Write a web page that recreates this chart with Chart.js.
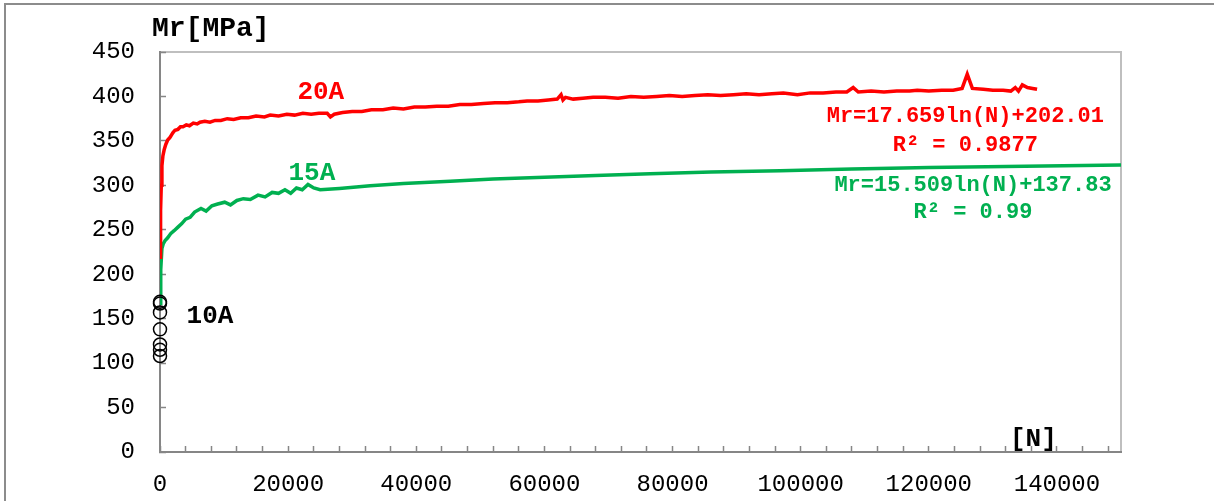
<!DOCTYPE html>
<html>
<head>
<meta charset="utf-8">
<script src="https://cdn.jsdelivr.net/npm/chart.js@4"></script>
<style>
  html, body { margin: 0; padding: 0; background: #fff; }
  #box { position: relative; width: 1214px; height: 501px; }
</style>
</head>
<body>
<div id="box"><canvas id="myChart" width="1214" height="501"></canvas></div>
<script>
// 20A series (N, Mr)
var redN = [0, 60, 120, 200, 300, 450, 650, 900, 1200, 1560, 2000, 2340, 2800, 3200, 3590, 4100, 4600, 5200, 5800, 6240,
    7000, 7800, 8600, 9500, 10500, 11500, 12600, 13800, 15000, 16300, 17200, 18500, 19800, 21000, 22300, 23600, 24800,
    26100, 26600, 27200, 28500, 30000, 31500, 33000, 34800, 36400, 38000, 39700, 41400, 43200, 45000, 46800, 48600,
    50500, 52300, 54200, 56000, 57300, 59000, 60600, 62000, 62600, 62900, 63300, 64500, 66000, 67600, 69500, 71500,
    73500, 75500, 77500, 79500, 81500, 83500, 85500, 87500, 89500, 91500, 93500, 95500, 97300, 99500, 101500, 103500,
    105500, 107200, 108200, 109000, 111000, 113000, 115000, 117000, 118200, 120000, 122000, 123800, 125200, 126000,
    126800, 128500, 130000, 131600, 132800, 133500, 134000, 134600, 135400, 136200, 136900];
var redMr = [219, 245, 272, 300, 322, 333, 340, 346, 351, 354, 359, 362, 363, 366, 366, 368, 367, 370, 369, 371,
    372, 371, 373, 373, 375, 374, 376, 376, 378, 377, 379, 378, 380, 379, 381, 380, 381,
    381, 377, 380, 382, 383, 383, 385, 385, 387, 386, 388, 388, 389, 389, 391, 391,
    392, 393, 393, 394, 395, 395, 396, 397, 402, 396, 399, 397, 398, 399, 399, 398,
    400, 399, 400, 401, 400, 401, 402, 401, 402, 403, 402, 403, 404, 402, 404, 404,
    405, 405, 410, 405, 406, 405, 406, 406, 407, 406, 407, 407, 409, 425,
    409, 408, 407, 407, 406, 410, 406, 413, 410, 409, 408];

// 15A series (N, Mr)
var greenN = [0, 80, 150, 300, 500, 800, 1200, 1700, 2200, 2800, 3400, 4000, 4700, 5400, 6400, 7200, 8100, 9000,
    10100, 11000, 12000, 13000, 14100, 15300, 16400, 17500, 18500, 19500, 20400, 21300, 22200, 23100, 24000, 25000,
    28000, 32800, 38000, 45300, 52000, 60000, 68000, 76500, 86000, 96800, 108000, 120000, 135000, 150000];
var greenMr = [167, 185, 205, 229, 234, 238, 241, 246, 249, 253, 257, 262, 264, 270, 274, 271, 277, 279,
    281, 278, 283, 285, 284, 289, 287, 292, 291, 295, 291, 297, 295, 301, 297, 295,
    296.5, 299.5, 302, 304.5, 307, 309, 311, 313, 315, 316.5, 318.5, 320, 321.5, 323];

// 10A points (N, Mr)
var blackN = [0, 0, 0, 0, 0, 0, 0];
var blackMr = [169, 167, 157, 138, 121, 115, 108];

var xMax = 150000;
var xTickStep = 4000;
var xLabelStep = 20000;
var yTicks = [0, 50, 100, 150, 200, 250, 300, 350, 400, 450];

var seriesNames = ['20A', '15A', '10A'];
var seriesColors = ['#ff0000', '#00b050', '#000000'];
var redEq = ['Mr=17.659ln(N)+202.01', 'R\u00b2 = 0.9877'];
var greenEq = ['Mr=15.509ln(N)+137.83', 'R\u00b2 = 0.99'];

function pairs(xs, ys) {
    var out = [];
    for (var i = 0; i < xs.length; i++) out.push({x: xs[i], y: ys[i]});
    return out;
}

document.addEventListener('DOMContentLoaded', function(){
    Chart.defaults.font.family = '"Liberation Mono", "DejaVu Sans Mono", monospace';
    Chart.defaults.color = '#000';

    var framePlugin = {
        id: 'frame',
        beforeDraw: function(chart) {
            var c = chart.ctx, a = chart.chartArea;
            c.save();
            // outer chart border
            c.strokeStyle = '#8c8c8c';
            c.lineWidth = 2;
            c.beginPath();
            c.moveTo(5, 510); c.lineTo(5, 4); c.lineTo(1220, 4);
            c.stroke();
            // plot area top/right border
            c.strokeStyle = '#bfbfbf';
            c.beginPath();
            c.moveTo(a.left, a.top); c.lineTo(a.right, a.top); c.lineTo(a.right, a.bottom);
            c.stroke();
            c.restore();
        },
        afterDraw: function(chart) {
            var c = chart.ctx, xs = chart.scales.x, ys = chart.scales.y;
            c.save();
            c.textBaseline = 'middle';
            c.fillStyle = '#000';
            c.textAlign = 'left';
            c.font = 'bold 28px "Liberation Mono"';
            c.fillText('Mr[MPa]', 152, 29);
            c.font = 'bold 26px "Liberation Mono"';
            c.fillText('[N]', 1010, 439);

            c.textAlign = 'center';
            c.fillStyle = seriesColors[0];
            c.fillText(seriesNames[0], xs.getPixelForValue(25100), ys.getPixelForValue(404));
            c.fillStyle = seriesColors[1];
            c.fillText(seriesNames[1], xs.getPixelForValue(23700), ys.getPixelForValue(313));
            c.fillStyle = seriesColors[2];
            c.fillText(seriesNames[2], xs.getPixelForValue(7800), ys.getPixelForValue(152));

            c.font = 'bold 22px "Liberation Mono"';
            c.fillStyle = seriesColors[0];
            c.fillText(redEq[0], xs.getPixelForValue(125700), ys.getPixelForValue(377));
            c.fillText(redEq[1], xs.getPixelForValue(125700), ys.getPixelForValue(345));
            c.fillStyle = seriesColors[1];
            c.fillText(greenEq[0], xs.getPixelForValue(126900), ys.getPixelForValue(300));
            c.fillText(greenEq[1], xs.getPixelForValue(126900), ys.getPixelForValue(269));
            c.restore();
        }
    };

    var data = {
        datasets: [{
            label: seriesNames[0],
            data: pairs(redN, redMr),
            showLine: true,
            borderColor: seriesColors[0],
            borderWidth: 3.5,
            pointRadius: 0,
            order: 1
        }, {
            label: seriesNames[2],
            data: pairs(blackN, blackMr),
            showLine: false,
            clip: false,
            borderColor: seriesColors[2],
            backgroundColor: 'rgba(0,0,0,0)',
            borderWidth: 1.5,
            pointRadius: 6.5,
            order: 2
        }, {
            label: seriesNames[1],
            data: pairs(greenN, greenMr),
            showLine: true,
            borderColor: seriesColors[1],
            borderWidth: 3.5,
            pointRadius: 0,
            order: 3
        }]
    };

    var options = {
        responsive: false,
        animation: false,
        layout: { padding: { left: 0, top: 52, right: 93, bottom: 0 } },
        plugins: {
            legend: { display: false },
            tooltip: { enabled: false }
        },
        scales: {
            x: {
                type: 'linear',
                min: 0,
                max: xMax,
                afterFit: function(s) { s.height = 49; },
                afterBuildTicks: function(s) {
                    var t = [];
                    for (var v = 0; v < xMax; v += xTickStep) t.push({value: v});
                    s.ticks = t;
                },
                border: { color: '#868686', width: 2 },
                grid: { drawOnChartArea: false, tickLength: -6, tickColor: '#868686', tickWidth: 1.5 },
                ticks: {
                    autoSkip: false,
                    maxRotation: 0,
                    minRotation: 0,
                    padding: 24,
                    font: { size: 24 },
                    color: '#000',
                    callback: function(v) { return v % xLabelStep === 0 ? String(v) : ''; }
                }
            },
            y: {
                type: 'linear',
                min: yTicks[0],
                max: yTicks[yTicks.length - 1],
                afterFit: function(s) { s.width = 160; },
                afterBuildTicks: function(s) { s.ticks = yTicks.map(function(v){ return {value: v}; }); },
                border: { color: '#868686', width: 2 },
                grid: { drawOnChartArea: false, tickLength: -6, tickColor: '#868686', tickWidth: 1.5 },
                ticks: {
                    padding: 31,
                    font: { size: 24 },
                    color: '#000'
                }
            }
        }
    };

    var ctx = document.getElementById('myChart').getContext('2d');
    var myChart = new Chart(ctx, {
        type: 'scatter',
        data: data,
        options: options,
        plugins: [framePlugin]
    });
});
</script>
</body>
</html>
